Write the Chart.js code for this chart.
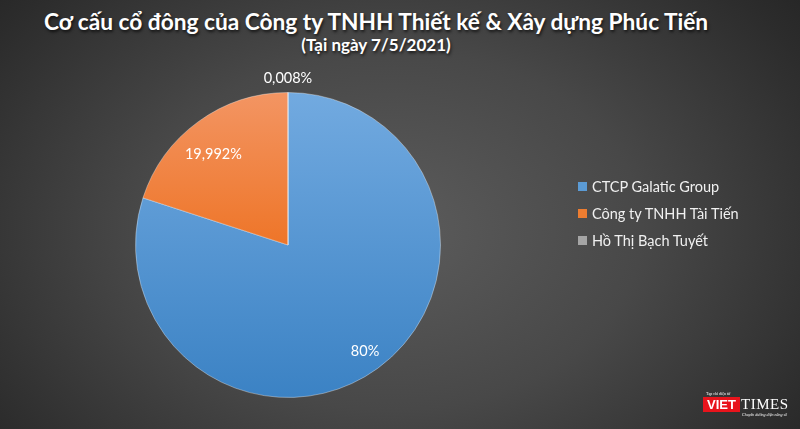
<!DOCTYPE html>
<html lang="vi">
<head>
    <meta charset="UTF-8">
    <title>Cơ cấu cổ đông</title>
    <script src="https://cdn.jsdelivr.net/npm/chart.js"></script>
    <style>
        body {
            margin: 0;
            padding: 0;
            background: #333;
        }

        .wrap {
            position: relative;
            width: 800px;
            height: 429px;
            overflow: hidden;
            background: radial-gradient(ellipse 560px 400px at 390px 230px, #5c5c5c 0%, #484848 45%, #2c2c2c 85%, #232323 100%);
            font-family: Lato, 'Open Sans', sans-serif;
        }

        #chart {
            position: absolute;
            left: 0;
            top: 0;
        }

        .title {
            position: absolute;
            left: 0;
            width: 752px;
            text-align: center;
            color: #fff;
            font-weight: bold;
            text-shadow: 1px 2px 3px rgba(0, 0, 0, 0.7);
        }

        .title.main {
            top: 8px;
            font-size: 22.7px;
        }

        .title.sub {
            top: 34px;
            font-size: 17px;
        }

        .legend {
            position: absolute;
            left: 578px;
            top: 178px;
            color: #f0f0f0;
            font-size: 14.5px;
        }

        .legend div {
            height: 27px;
            line-height: 18px;
            white-space: nowrap;
        }

        .legend span {
            display: inline-block;
            width: 9px;
            height: 9px;
            margin-right: 5px;
            vertical-align: 1px;
        }

        .logo {
            position: absolute;
            left: 700px;
            top: 391px;
            width: 96px;
            height: 30px;
            color: #fff;
        }

        .logo .top {
            position: absolute;
            left: 6px;
            top: 0;
            font-size: 4px;
            font-family: 'Liberation Serif', serif;
        }

        .logo .viet {
            position: absolute;
            left: 3px;
            top: 6px;
            width: 37px;
            height: 15px;
            background: #e8141c;
            font: bold 13px 'Liberation Sans', sans-serif;
            line-height: 15px;
            text-align: center;
        }

        .logo .times {
            position: absolute;
            left: 41px;
            top: 5px;
            font: 15px 'Liberation Serif', serif;
            letter-spacing: 0.5px;
        }

        .logo .tag {
            position: absolute;
            left: 42px;
            top: 21px;
            font: italic 4px 'Liberation Serif', serif;
            white-space: nowrap;
        }
    </style>
</head>
<body>
    <div class="wrap">
        <div class="title main">Cơ cấu cổ đông của Công ty TNHH Thiết kế &amp; Xây dựng Phúc Tiến</div>
        <div class="title sub">(Tại ngày 7/5/2021)</div>
        <canvas id="chart" width="800" height="429"></canvas>
        <div class="legend" id="legend"></div>
        <div class="logo">
            <div class="top">Tạp chí điện tử</div>
            <div class="viet">VIET</div>
            <div class="times">TIMES</div>
            <div class="tag">Chuyên đường điện năng số</div>
        </div>
    </div>

    <script>
        // shareholders and their share (%)
        const holders = ['CTCP Galatic Group', 'Công ty TNHH Tài Tiến', 'Hồ Thị Bạch Tuyết'];
        const shares = [80, 19.992, 0.008];
        const shareLabels = ['80%', '19,992%', '0,008%'];

        const swatch = ['#5b9bd5', '#ed7d31', '#a5a5a5'];
        // top / bottom colours of each slice gradient
        const gradTop = ['#72aae0', '#f39563', '#b8b8b8'];
        const gradBottom = ['#3b82c4', '#ee7528', '#909090'];

        // html legend
        const legendBox = document.getElementById('legend');
        holders.forEach(function(name, i) {
            const row = document.createElement('div');
            row.innerHTML = '<span style="background:' + swatch[i] + '"></span>' + name;
            legendBox.appendChild(row);
        });

        // slice labels drawn after the pie
        const sliceLabels = {
            id: 'sliceLabels',
            afterDatasetsDraw(chart, args, opts) {
                const ctx = chart.ctx;
                const meta = chart.getDatasetMeta(0);
                ctx.save();
                ctx.font = '14.5px Lato, "Open Sans", sans-serif';
                ctx.fillStyle = '#ffffff';
                ctx.textAlign = 'center';
                ctx.textBaseline = 'middle';
                meta.data.forEach(function(arc, i) {
                    const mid = (arc.startAngle + arc.endAngle) / 2 + opts.shift[i];
                    const r = arc.outerRadius * opts.factor[i];
                    ctx.fillText(shareLabels[i], arc.x + Math.cos(mid) * r, arc.y + Math.sin(mid) * r);
                });
                ctx.restore();
            }
        };

        function sliceFill(context) {
            const i = context.dataIndex;
            const area = context.chart.chartArea;
            if (!area) return swatch[i];
            const c = context.chart.ctx;
            // orange slice only covers the upper half
            const bottom = i === 1 ? (area.top + area.bottom) / 2 : area.bottom;
            const g = c.createLinearGradient(0, area.top, 0, bottom);
            g.addColorStop(0, gradTop[i]);
            g.addColorStop(1, gradBottom[i]);
            return g;
        }

        const ctx = document.getElementById('chart').getContext('2d');
        const pieChart = new Chart(ctx, {
            type: 'pie',
            data: {
                labels: holders,
                datasets: [{
                    data: shares,
                    backgroundColor: sliceFill,
                    borderColor: 'rgba(255,255,255,0.35)',
                    borderWidth: 1
                }]
            },
            options: {
                responsive: false,
                animation: false,
                layout: {
                    padding: { top: 92, bottom: 31, left: 135, right: 359 }
                },
                plugins: {
                    legend: { display: false },
                    tooltip: { enabled: false },
                    sliceLabels: { factor: [0.86, 0.77, 1.09], shift: [0, -0.06, 0] }
                }
            },
            plugins: [sliceLabels]
        });
    </script>
</body>
</html>
